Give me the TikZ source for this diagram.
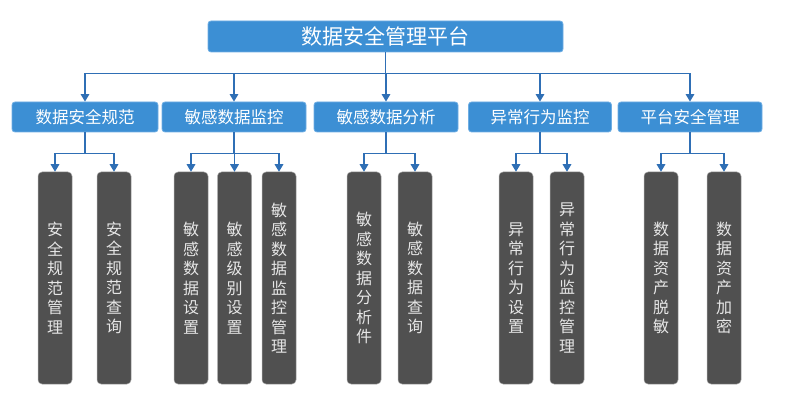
\documentclass[tikz,border=0pt]{standalone}
\usepackage{fontspec}
\setmainfont{Noto Sans CJK SC}
\usetikzlibrary{arrows.meta}
\definecolor{boxblue}{HTML}{3C8FD4}
\definecolor{boxedge}{HTML}{6FAEE3}
\definecolor{lineblue}{HTML}{2F6FB5}
\definecolor{leafgray}{HTML}{505050}
\definecolor{leaftext}{HTML}{E6E6E6}
\begin{document}
\begin{tikzpicture}[x=1pt,y=-1pt,
  topbox/.style={fill=boxblue,draw=boxedge,line width=0.8pt,rounded corners=3pt,minimum width=355pt,minimum height=31pt,text=white,font=\fontsize{21}{23}\selectfont,inner sep=0pt},
  midbox/.style={fill=boxblue,draw=boxedge,line width=0.8pt,rounded corners=3pt,minimum height=30pt,text=white,font=\fontsize{16.5}{18}\selectfont,inner sep=0pt},
  leafbox/.style={fill=leafgray,draw=gray!70,line width=0.5pt,rounded corners=4pt,minimum width=34pt,minimum height=212pt,text=leaftext,align=center,font=\fontsize{16}{19.5}\selectfont,inner sep=0pt},
  conn/.style={draw=lineblue,line width=1.6pt},
  arr/.style={conn,-{Triangle[width=8.5pt,length=7.5pt]}}
]
\useasboundingbox (0,0) rectangle (804,409);

\node[topbox] (top) at (385.5,36.5) {数据安全管理平台};

\node[midbox,minimum width=146pt] (m1) at (85,117) {数据安全规范};
\node[midbox,minimum width=144pt] (m2) at (234,117) {敏感数据监控};
\node[midbox,minimum width=144pt] (m3) at (386,117) {敏感数据分析};
\node[midbox,minimum width=143pt] (m4) at (540,117) {异常行为监控};
\node[midbox,minimum width=144pt] (m5) at (690,117) {平台安全管理};

\node[leafbox] (l11) at (55,278) {安\\全\\规\\范\\管\\理};
\node[leafbox] (l12) at (114,278) {安\\全\\规\\范\\查\\询};
\node[leafbox] (l21) at (191,278) {敏\\感\\数\\据\\设\\置};
\node[leafbox] (l22) at (234.5,278) {敏\\感\\级\\别\\设\\置};
\node[leafbox] (l23) at (279,278) {敏\\感\\数\\据\\监\\控\\管\\理};
\node[leafbox] (l31) at (364,278) {敏\\感\\数\\据\\分\\析\\件};
\node[leafbox] (l32) at (415,278) {敏\\感\\数\\据\\查\\询};
\node[leafbox] (l41) at (516,278) {异\\常\\行\\为\\设\\置};
\node[leafbox] (l42) at (567,278) {异\\常\\行\\为\\监\\控\\管\\理};
\node[leafbox] (l51) at (661,278) {数\\据\\资\\产\\脱\\敏};
\node[leafbox] (l52) at (724,278) {数\\据\\资\\产\\加\\密};

% top level bus
\draw[conn] (top.south) -- ++(0,21) coordinate (b0);
\foreach \m in {m1,m2,m3,m4,m5} \draw[arr] (b0) -| (\m.north);

% sub buses
\draw[conn] (m1.south) -- ++(0,21) coordinate (s1);
\draw[arr] (s1) -| (l11.north); \draw[arr] (s1) -| (l12.north);
\draw[conn] (m2.south) -- ++(0,21) coordinate (s2);
\draw[arr] (s2) -| (l21.north); \draw[arr] (s2) -| (l22.north); \draw[arr] (s2) -| (l23.north);
\draw[conn] (m3.south) -- ++(0,21) coordinate (s3);
\draw[arr] (s3) -| (l31.north); \draw[arr] (s3) -| (l32.north);
\draw[conn] (m4.south) -- ++(0,21) coordinate (s4);
\draw[arr] (s4) -| (l41.north); \draw[arr] (s4) -| (l42.north);
\draw[conn] (m5.south) -- ++(0,21) coordinate (s5);
\draw[arr] (s5) -| (l51.north); \draw[arr] (s5) -| (l52.north);
\end{tikzpicture}
\end{document}
